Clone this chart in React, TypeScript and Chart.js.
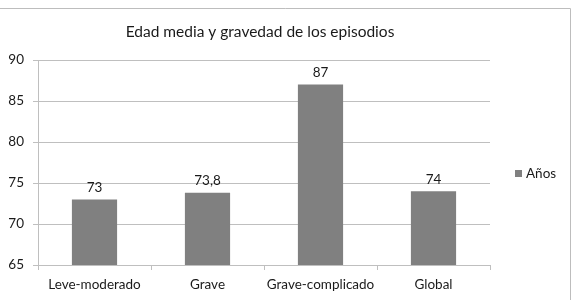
import React, { useEffect, useRef } from "react";
import { Chart, registerables } from "chart.js";

Chart.register(...registerables);

const title = "Edad media y gravedad de los episodios";
const categories = ["Leve-moderado", "Grave", "Grave-complicado", "Global"];
const seriesName = "Años";
const values = [73, 73.8, 87, 74];
const valueLabels = ["73", "73,8", "87", "74"];
const yTicks = [65, 70, 75, 80, 85, 90];

const FONT = "Lato, 'Open Sans', sans-serif";
const BAR = "#808080";
const FS = 13.5;

const extras = {
  id: "extras",
  afterDraw(chart: any) {
    const { ctx } = chart;
    ctx.save();
    // frame lines
    ctx.strokeStyle = "#bdbdbd";
    ctx.lineWidth = 1;
    ctx.beginPath();
    ctx.moveTo(0, 0.5);
    ctx.lineTo(570.5, 0.5);
    ctx.lineTo(570.5, chart.height);
    ctx.stroke();
    // title
    ctx.fillStyle = "#1a1a1a";
    ctx.font = `15.5px ${FONT}`;
    ctx.textAlign = "center";
    ctx.textBaseline = "middle";
    ctx.fillText(title, 260, 24);
    // value labels
    const meta = chart.getDatasetMeta(0);
    ctx.font = `${FS}px ${FONT}`;
    ctx.fillStyle = "#1a1a1a";
    ctx.textBaseline = "bottom";
    meta.data.forEach((bar: any, i: number) => {
      ctx.fillText(valueLabels[i], bar.x, bar.y - 5);
    });
    // legend
    ctx.fillStyle = BAR;
    ctx.fillRect(515, 162, 7, 7);
    ctx.fillStyle = "#1a1a1a";
    ctx.textAlign = "left";
    ctx.textBaseline = "middle";
    ctx.fillText(seriesName, 526, 166);
    ctx.restore();
  },
};

export default function App() {
  const ref = useRef<HTMLCanvasElement>(null);
  useEffect(() => {
    const chart = new Chart(ref.current!, {
      type: "bar",
      data: {
        labels: categories,
        datasets: [
          {
            label: seriesName,
            data: values,
            backgroundColor: BAR,
            borderWidth: 0,
            barPercentage: 0.4,
            categoryPercentage: 1,
          },
        ],
      },
      options: {
        animation: false,
        responsive: false,
        devicePixelRatio: 1,
        layout: { padding: { left: 0, right: 81, top: 52, bottom: 0 } },
        plugins: {
          legend: { display: false },
          title: { display: false },
          tooltip: { enabled: false },
        },
        scales: {
          y: {
            min: yTicks[0],
            max: yTicks[yTicks.length - 1],
            afterFit(scale: any) {
              scale.width = 38;
            },
            afterBuildTicks(scale: any) {
              scale.ticks = yTicks.map((v) => ({ value: v }));
            },
            ticks: {
              font: { family: FONT, size: FS },
              color: "#1a1a1a",
              padding: 9,
            },
            grid: { color: "#bfbfbf", tickLength: 5 },
            border: { color: "#bfbfbf" },
          },
          x: {
            afterFit(scale: any) {
              scale.height = 35;
            },
            ticks: {
              font: { family: FONT, size: FS },
              color: "#1a1a1a",
              padding: 7,
              maxRotation: 0,
            },
            grid: {
              drawOnChartArea: false,
              drawTicks: true,
              tickLength: 5,
              color: "#bfbfbf",
              offset: true,
            },
            border: { color: "#bfbfbf" },
          },
        },
      },
      plugins: [extras],
    });
    return () => chart.destroy();
  }, []);
  return (
    <div style={{ position: "absolute", left: 0, top: 8, width: 571, height: 292 }}>
      <canvas ref={ref} width={571} height={292} style={{ display: "block" }} />
    </div>
  );
}
